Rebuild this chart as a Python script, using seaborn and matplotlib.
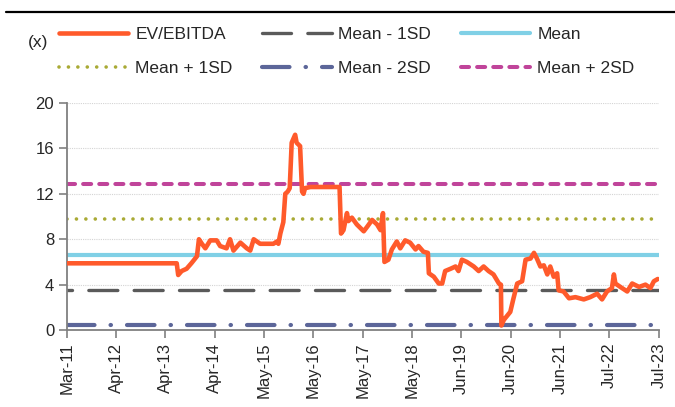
import numpy as np
import pandas as pd
import seaborn as sns
import matplotlib.pyplot as plt
from matplotlib.lines import Line2D

# x positions are in tick-label units (0 = Mar-11, 12 = Jul-23)
tick_labels = ['Mar-11', 'Apr-12', 'Apr-13', 'Apr-14', 'May-15', 'May-16', 'May-17',
               'May-18', 'Jun-19', 'Jun-20', 'Jun-21', 'Jul-22', 'Jul-23']

pos = [0, 2.23, 2.26, 2.33, 2.43, 2.53, 2.64, 2.68, 2.74, 2.81,
       2.91, 3.04, 3.11, 3.24, 3.31, 3.38, 3.52, 3.65, 3.72, 3.79,
       3.92, 4.19, 4.26, 4.29, 4.33, 4.39, 4.43, 4.48, 4.52, 4.56,
       4.63, 4.66, 4.73, 4.77, 4.80, 4.83, 4.94, 5.53, 5.56, 5.61,
       5.68, 5.71, 5.78, 5.88, 6.02, 6.09, 6.19, 6.29, 6.36, 6.41,
       6.44, 6.52, 6.59, 6.69, 6.76, 6.86, 6.96, 7.07, 7.13, 7.23,
       7.32, 7.34, 7.44, 7.54, 7.61, 7.67, 7.78, 7.88, 7.94, 8.01,
       8.11, 8.25, 8.35, 8.45, 8.55, 8.65, 8.76, 8.80, 8.81, 8.86,
       8.99, 9.05, 9.13, 9.23, 9.30, 9.40, 9.47, 9.53, 9.60, 9.67,
       9.74, 9.80, 9.87, 9.94, 9.97, 10.07, 10.18, 10.31, 10.48, 10.61,
       10.75, 10.85, 10.95, 11.05, 11.09, 11.12, 11.22, 11.36, 11.46, 11.60,
       11.73, 11.83, 11.90, 11.98]

ev_ebitda = [5.88, 5.88, 4.85, 5.2, 5.4, 5.9, 6.5, 8.0, 7.6, 7.2,
             7.9, 7.9, 7.4, 7.2, 8.0, 7.0, 7.7, 7.2, 7.0, 8.0,
             7.6, 7.6, 7.8, 7.6, 8.5, 9.5, 12.0, 12.2, 12.5, 16.5,
             17.2, 16.5, 16.2, 12.2, 12.0, 12.5, 12.6, 12.6, 8.5, 8.8,
             10.3, 9.6, 9.9, 9.3, 8.7, 9.1, 9.7, 9.3, 8.8, 10.3,
             6.0, 6.2, 7.1, 7.8, 7.2, 7.9, 7.7, 7.1, 7.4, 6.9,
             6.8, 5.0, 4.7, 4.1, 4.1, 5.2, 5.4, 5.6, 5.2, 6.2,
             6.0, 5.6, 5.2, 5.6, 5.2, 4.9, 4.1, 4.0, 0.4, 0.9,
             1.6, 2.7, 4.1, 4.3, 6.2, 6.3, 6.8, 6.3, 5.6, 5.7,
             4.9, 5.6, 4.7, 5.0, 3.5, 3.4, 2.8, 2.9, 2.7, 2.9,
             3.2, 2.7, 3.4, 3.7, 4.9, 4.1, 3.8, 3.4, 4.1, 3.8,
             4.0, 3.7, 4.3, 4.5]

mean_val = 6.65
sd_val = 3.1

df = pd.DataFrame({'pos': pos, 'ev': ev_ebitda})

sns.set_style('white')
plt.rcParams['font.family'] = ['Liberation Sans', 'DejaVu Sans']

fig = plt.figure(figsize=(6.75, 4.07), dpi=100)
ax = fig.add_axes([0.0988, 0.189, 0.8772, 0.558])

# name, level, colour, width, line style, legend style
bands = [
    ('Mean - 1SD', mean_val - sd_val, '#5a5a5a', 2.4, (7.2, (8.7, 4.9)), (0, (8.7, 4.9))),
    ('Mean', mean_val, '#80d0e6', 3.0, '-', '-'),
    ('Mean + 1SD', mean_val + sd_val, '#a9aa35', 2.6, (0, (0.01, 2.6)), (0, (0.01, 2.6))),
    ('Mean - 2SD', mean_val - 2 * sd_val, '#5c6699', 3.0,
     (0, (6.6, 3.85, 0.1, 3.85)), (0, (6.6, 3.85, 0.1, 3.85))),
    ('Mean + 2SD', mean_val + 2 * sd_val, '#c0449a', 2.9, (0, (2, 2)), (0, (2, 2))),
]
handles = {}
for name, lvl, col, lw, ls, leg_ls in bands:
    ax.axhline(lvl, color=col, lw=lw, linestyle=ls, dash_capstyle='round',
               solid_capstyle='butt', zorder=2)
    handles[name] = Line2D([], [], color=col, lw=lw, linestyle=leg_ls,
                           dash_capstyle='round')

sns.lineplot(data=df, x='pos', y='ev', ax=ax, color='#ff5a2b', lw=3.3,
             estimator=None, sort=False, zorder=3)
handles['EV/EBITDA'] = Line2D([], [], color='#ff5a2b', lw=3.3)

ax.set_xlim(0, 12)
ax.set_ylim(0, 20)
ax.set_yticks(np.arange(0, 21, 4))
ax.set_xticks(range(len(tick_labels)))
ax.set_xticklabels(tick_labels, rotation=90)
ax.set_xlabel('')
ax.set_ylabel('')
ax.tick_params(axis='both', labelsize=12, length=6, width=1.2, color='#808080',
               direction='out', pad=3)
ax.tick_params(axis='y', left=True)
ax.tick_params(axis='x', bottom=True)
ax.yaxis.grid(True, color='#d4d4d4', lw=0.8, linestyle=(0, (1, 1)))
sns.despine(ax=ax)
for s in ['left', 'bottom']:
    ax.spines[s].set_color('#808080')
    ax.spines[s].set_linewidth(1.3)

# legend filled row-wise (3 columns)
order = ['EV/EBITDA', 'Mean + 1SD', 'Mean - 1SD', 'Mean - 2SD', 'Mean', 'Mean + 2SD']
fig.legend([handles[k] for k in order], order, ncol=3, loc='upper left',
           bbox_to_anchor=(0.064, 0.972), frameon=False, fontsize=12.5,
           handlelength=4.0, handletextpad=0.4, columnspacing=1.7,
           labelspacing=1.1)

fig.text(0.041, 0.895, '(x)', fontsize=12.5, ha='left', va='center')
fig.add_artist(Line2D([0.009, 1.0], [0.971, 0.971], color='black', lw=1.6,
                      transform=fig.transFigure))

fig.savefig('out.png', dpi=100)
